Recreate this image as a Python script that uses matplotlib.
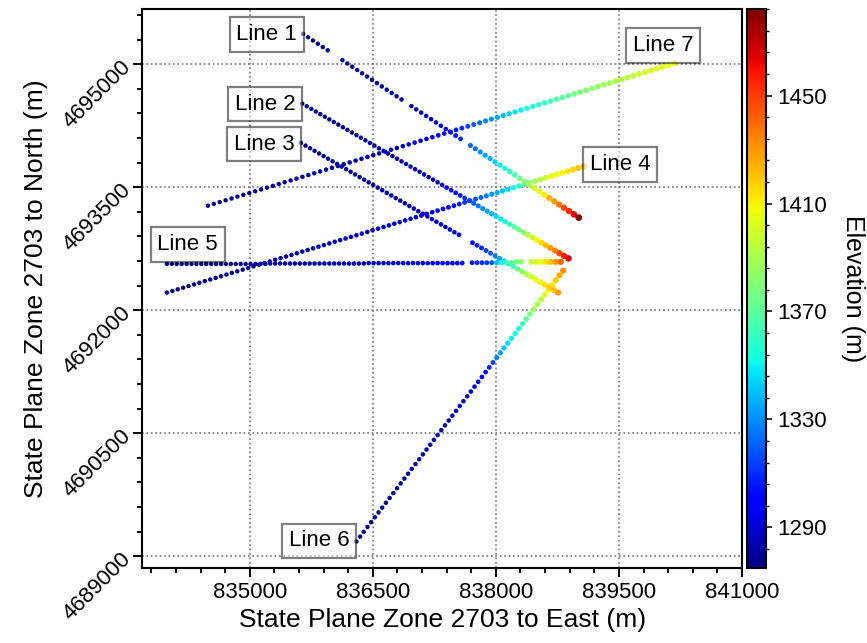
import matplotlib
matplotlib.use('Agg')
import matplotlib.pyplot as plt
from matplotlib.ticker import MultipleLocator, AutoMinorLocator
import numpy as np

plt.rcParams['font.family'] = ['Liberation Sans', 'DejaVu Sans']

# survey stations: easting (m), northing (m), elevation (m)
L1_E = [835650, 835710, 835770, 835830, 835890, 835950,
        836130, 836190, 836250, 836310, 836370, 836430, 836490, 836550, 836610, 836670, 836730, 836790, 836850,
        836970, 837030, 837090, 837150, 837210, 837270, 837330, 837390, 837450, 837510, 837570,
        837690, 837750, 837810, 837870, 837930, 837990, 838050, 838110, 838170, 838230, 838290, 838350,
        838410, 838470, 838530, 838590, 838650, 838710, 838770, 838830, 838890, 838950, 839010]
L1_N = [4695370, 4695330, 4695290, 4695250, 4695210, 4695170,
        4695050, 4695010, 4694970, 4694930, 4694890, 4694850, 4694810, 4694770, 4694730, 4694690, 4694650, 4694610, 4694570,
        4694490, 4694450, 4694410, 4694370, 4694330, 4694290, 4694250, 4694210, 4694170, 4694130, 4694090,
        4694010, 4693970, 4693930, 4693890, 4693850, 4693810, 4693770, 4693730, 4693690, 4693650, 4693610, 4693570,
        4693530, 4693490, 4693450, 4693410, 4693370, 4693330, 4693290, 4693250, 4693210, 4693170, 4693130]
L1_Z = [1278, 1277, 1278, 1279, 1278, 1279,
        1279, 1278, 1279, 1280, 1279, 1280, 1281, 1280, 1281, 1282, 1281, 1282, 1283,
        1283, 1284, 1284, 1285, 1286, 1288, 1291, 1295, 1300, 1305, 1309,
        1320, 1325, 1330, 1334, 1338, 1344, 1350, 1355, 1360, 1366, 1374, 1382,
        1390, 1398, 1405, 1412, 1424, 1430, 1437, 1448, 1455, 1463, 1482]

L2_E = [835640, 835695, 835750, 835805, 835860, 835915, 835970, 836025, 836080, 836135,
        836190, 836245, 836300, 836355, 836410, 836465, 836520, 836575, 836630, 836685,
        836740, 836795, 836850, 836905, 836960, 837015, 837070, 837125, 837180, 837235,
        837290, 837345, 837400, 837455, 837510, 837565, 837620, 837675, 837730, 837785,
        837840, 837895, 837950, 838005, 838060, 838115, 838170, 838225, 838280, 838335,
        838390, 838445, 838500, 838555, 838610, 838665, 838720, 838775, 838830, 838885]
L2_N = [4694520, 4694488, 4694456, 4694424, 4694392, 4694360, 4694328, 4694296, 4694264, 4694232,
        4694200, 4694168, 4694136, 4694104, 4694072, 4694040, 4694008, 4693976, 4693944, 4693912,
        4693880, 4693848, 4693816, 4693784, 4693752, 4693720, 4693688, 4693656, 4693624, 4693592,
        4693560, 4693528, 4693496, 4693464, 4693432, 4693400, 4693368, 4693336, 4693304, 4693272,
        4693240, 4693208, 4693176, 4693144, 4693112, 4693080, 4693048, 4693016, 4692984, 4692952,
        4692920, 4692888, 4692856, 4692824, 4692792, 4692760, 4692728, 4692696, 4692664, 4692632]
L2_Z = [1277, 1278, 1277, 1278, 1279, 1278, 1279, 1280, 1279, 1280,
        1280, 1279, 1280, 1281, 1280, 1281, 1282, 1281, 1282, 1283,
        1282, 1283, 1284, 1283, 1284, 1285, 1284, 1285, 1286, 1285,
        1287, 1291, 1295, 1299, 1303, 1306, 1310, 1314, 1320, 1325,
        1330, 1334, 1338, 1345, 1350, 1355, 1362, 1368, 1375, 1382,
        1392, 1400, 1408, 1415, 1422, 1428, 1435, 1447, 1455, 1465]

L3_E = [835625, 835680, 835735, 835790, 835845, 835900, 835955, 836010, 836065, 836120,
        836175, 836230, 836285, 836340, 836395, 836450, 836505, 836560, 836615, 836670,
        836725, 836780, 836835, 836890, 836945, 837000, 837055, 837110, 837165, 837220,
        837275, 837330, 837385, 837440, 837495, 837550,
        837715, 837770, 837825, 837880, 837935, 837990, 838045, 838100, 838155, 838210,
        838265, 838320, 838375, 838430, 838485, 838540, 838595, 838650, 838705, 838760]
L3_N = [4694040, 4694008, 4693976, 4693944, 4693912, 4693880, 4693848, 4693816, 4693784, 4693752,
        4693720, 4693688, 4693656, 4693624, 4693592, 4693560, 4693528, 4693496, 4693464, 4693432,
        4693400, 4693368, 4693336, 4693304, 4693272, 4693240, 4693208, 4693176, 4693144, 4693112,
        4693080, 4693048, 4693016, 4692984, 4692952, 4692920,
        4692824, 4692792, 4692760, 4692728, 4692696, 4692664, 4692632, 4692600, 4692568, 4692536,
        4692504, 4692472, 4692440, 4692408, 4692376, 4692344, 4692312, 4692280, 4692248, 4692216]
L3_Z = [1278, 1277, 1278, 1279, 1278, 1279, 1280, 1279, 1280, 1281,
        1280, 1281, 1282, 1281, 1282, 1283, 1282, 1283, 1284, 1283,
        1284, 1285, 1284, 1285, 1286, 1285, 1286, 1287, 1286, 1287,
        1288, 1289, 1288, 1290, 1291, 1292,
        1302, 1305, 1308, 1312, 1318, 1326, 1334, 1342, 1350, 1362,
        1374, 1384, 1392, 1398, 1404, 1410, 1414, 1418, 1422, 1428]

L4_E = [833990, 834056, 834122, 834188, 834254, 834320, 834386, 834452, 834518, 834584,
        834650, 834716, 834782, 834848, 834914, 834980, 835046, 835112, 835178, 835244,
        835310, 835376, 835442, 835508, 835574, 835640, 835706, 835772, 835838, 835904,
        835970, 836036, 836102, 836168, 836234, 836300, 836366, 836432, 836498, 836564,
        836630, 836696, 836762, 836828, 836894, 836960, 837026, 837092, 837158, 837224,
        837290, 837356, 837422, 837488, 837554, 837620, 837686, 837752, 837818, 837884,
        837950, 838016, 838082, 838148, 838214, 838280, 838346, 838412, 838478, 838544,
        838610, 838676, 838742, 838808, 838874, 838940, 839006, 839072]
L4_N = [4692215, 4692235, 4692255, 4692275, 4692295, 4692315, 4692335, 4692355, 4692375, 4692395,
        4692415, 4692435, 4692455, 4692475, 4692495, 4692515, 4692535, 4692555, 4692575, 4692595,
        4692615, 4692635, 4692655, 4692675, 4692695, 4692715, 4692735, 4692755, 4692775, 4692795,
        4692815, 4692835, 4692855, 4692875, 4692895, 4692915, 4692935, 4692955, 4692975, 4692995,
        4693015, 4693035, 4693055, 4693075, 4693095, 4693115, 4693135, 4693155, 4693175, 4693195,
        4693215, 4693235, 4693255, 4693275, 4693295, 4693315, 4693335, 4693355, 4693375, 4693395,
        4693415, 4693435, 4693455, 4693475, 4693495, 4693515, 4693535, 4693555, 4693575, 4693595,
        4693615, 4693635, 4693655, 4693675, 4693695, 4693715, 4693735, 4693755]
L4_Z = [1276, 1277, 1276, 1277, 1278, 1277, 1278, 1279, 1278, 1279,
        1279, 1280, 1279, 1280, 1281, 1280, 1281, 1281, 1282, 1281,
        1282, 1283, 1282, 1283, 1284, 1283, 1284, 1284, 1285, 1284,
        1285, 1286, 1285, 1286, 1287, 1286, 1287, 1287, 1288, 1287,
        1288, 1289, 1288, 1289, 1290, 1289, 1290, 1291, 1293, 1295,
        1297, 1299, 1301, 1303, 1306, 1310, 1314, 1318, 1322, 1326,
        1330, 1336, 1341, 1346, 1352, 1360, 1370, 1380, 1388, 1394,
        1398, 1404, 1407, 1410, 1413, 1416, 1419, 1423]

L5_E = [833990, 834050, 834110, 834170, 834230, 834290, 834350, 834410, 834470, 834530,
        834590, 834650, 834710, 834770, 834830, 834890, 834950, 835010, 835070, 835130,
        835190, 835250, 835310, 835370, 835430, 835490, 835550, 835610, 835670, 835730,
        835790, 835850, 835910, 835970, 836030, 836090, 836150, 836210, 836270, 836330,
        836390, 836450, 836510, 836570, 836630, 836690, 836750, 836810, 836870, 836930,
        836990, 837050, 837110, 837170, 837230, 837290, 837350, 837410, 837470, 837530, 837590,
        837710, 837770, 837830, 837890, 837950, 838010, 838070, 838130, 838190, 838250, 838310,
        838430, 838490, 838550, 838610, 838670, 838730, 838790]
L5_N = [4692565, 4692565, 4692565, 4692565, 4692565, 4692565, 4692565, 4692565, 4692565, 4692565,
        4692565, 4692565, 4692565, 4692565, 4692565, 4692565, 4692565, 4692565, 4692565, 4692565,
        4692565, 4692570, 4692570, 4692570, 4692570, 4692570, 4692570, 4692570, 4692570, 4692570,
        4692570, 4692570, 4692570, 4692570, 4692570, 4692570, 4692570, 4692570, 4692570, 4692570,
        4692570, 4692575, 4692575, 4692575, 4692575, 4692575, 4692575, 4692575, 4692575, 4692575,
        4692575, 4692575, 4692575, 4692575, 4692575, 4692575, 4692575, 4692575, 4692575, 4692575, 4692575,
        4692580, 4692580, 4692580, 4692580, 4692580, 4692580, 4692580, 4692580, 4692580, 4692590, 4692590,
        4692590, 4692590, 4692590, 4692590, 4692590, 4692590, 4692590]
L5_Z = [1276, 1275, 1276, 1277, 1276, 1277, 1278, 1277, 1278, 1277,
        1278, 1279, 1278, 1279, 1278, 1279, 1280, 1279, 1280, 1281,
        1280, 1281, 1280, 1281, 1282, 1281, 1282, 1283, 1282, 1283,
        1283, 1284, 1283, 1284, 1285, 1284, 1285, 1285, 1286, 1285,
        1286, 1286, 1287, 1286, 1287, 1287, 1288, 1288, 1289, 1289,
        1290, 1291, 1292, 1293, 1295, 1297, 1298, 1299, 1300, 1302, 1304,
        1306, 1308, 1310, 1313, 1318, 1340, 1352, 1362, 1370, 1376, 1384,
        1396, 1401, 1408, 1414, 1420, 1430, 1440]

L6_E = [836300, 836345, 836390, 836435, 836480, 836525, 836570, 836615, 836660, 836705,
        836750, 836795, 836840, 836885, 836930, 836975, 837020, 837065, 837110, 837155,
        837200, 837245, 837290, 837335, 837380, 837425, 837470, 837515, 837560, 837605,
        837650, 837695, 837740, 837785, 837830, 837875, 837920, 837965, 838010, 838055,
        838100, 838145, 838190, 838235, 838280, 838325, 838370, 838415, 838460, 838505,
        838550, 838595, 838640, 838685, 838730, 838775, 838820]
L6_N = [4689180, 4689239, 4689298, 4689357, 4689416, 4689475, 4689534, 4689593, 4689652, 4689711,
        4689770, 4689829, 4689888, 4689947, 4690006, 4690065, 4690124, 4690183, 4690242, 4690301,
        4690360, 4690419, 4690478, 4690537, 4690596, 4690655, 4690714, 4690773, 4690832, 4690891,
        4690950, 4691009, 4691068, 4691127, 4691186, 4691245, 4691304, 4691363, 4691422, 4691481,
        4691540, 4691599, 4691658, 4691717, 4691776, 4691835, 4691894, 4691953, 4692012, 4692071,
        4692130, 4692189, 4692248, 4692307, 4692366, 4692425, 4692484]
L6_Z = [1276, 1277, 1276, 1277, 1278, 1277, 1278, 1279, 1278, 1279,
        1280, 1279, 1280, 1281, 1280, 1281, 1282, 1281, 1282, 1283,
        1282, 1283, 1284, 1283, 1284, 1285, 1284, 1285, 1286, 1285,
        1286, 1288, 1290, 1293, 1298, 1302, 1308, 1314, 1328, 1334,
        1340, 1346, 1350, 1353, 1356, 1362, 1370, 1378, 1386, 1390,
        1394, 1400, 1406, 1412, 1418, 1425, 1432]

L7_E = [834490, 834562, 834634, 834706, 834778, 834850, 834922, 834994, 835066, 835138,
        835210, 835282, 835354, 835426, 835498, 835570, 835642, 835714, 835786, 835858,
        835930, 836002, 836074, 836146, 836218, 836290, 836362, 836434, 836506, 836578,
        836650, 836722, 836794, 836866, 836938, 837010, 837082, 837154, 837226, 837298,
        837370, 837442, 837514, 837586, 837658, 837730, 837802, 837874, 837946, 838018,
        838090, 838162, 838234, 838306, 838378, 838450, 838522, 838594, 838666, 838738,
        838810, 838882, 838954, 839026, 839098, 839170, 839242, 839314, 839386, 839458,
        839530, 839602, 839674, 839746, 839818, 839890, 839962, 840034, 840106, 840178]
L7_N = [4693275, 4693297, 4693319, 4693341, 4693363, 4693385, 4693407, 4693429, 4693451, 4693473,
        4693495, 4693517, 4693539, 4693561, 4693583, 4693605, 4693627, 4693649, 4693671, 4693693,
        4693715, 4693737, 4693759, 4693781, 4693803, 4693825, 4693847, 4693869, 4693891, 4693913,
        4693935, 4693957, 4693979, 4694001, 4694023, 4694045, 4694067, 4694089, 4694111, 4694133,
        4694155, 4694177, 4694199, 4694221, 4694243, 4694265, 4694287, 4694309, 4694331, 4694353,
        4694375, 4694397, 4694419, 4694441, 4694463, 4694485, 4694507, 4694529, 4694551, 4694573,
        4694595, 4694617, 4694639, 4694661, 4694683, 4694705, 4694727, 4694749, 4694771, 4694793,
        4694815, 4694837, 4694859, 4694881, 4694903, 4694925, 4694947, 4694969, 4694991, 4695013]
L7_Z = [1276, 1277, 1276, 1277, 1278, 1277, 1278, 1277, 1278, 1279,
        1278, 1279, 1280, 1279, 1280, 1281, 1280, 1281, 1282, 1281,
        1282, 1283, 1282, 1283, 1284, 1283, 1284, 1285, 1284, 1285,
        1286, 1285, 1286, 1287, 1288, 1289, 1290, 1292, 1294, 1297,
        1300, 1303, 1306, 1310, 1314, 1318, 1322, 1326, 1330, 1335,
        1339, 1343, 1347, 1350, 1352, 1354, 1356, 1359, 1362, 1366,
        1369, 1372, 1375, 1378, 1380, 1382, 1384, 1386, 1388, 1391,
        1393, 1395, 1397, 1399, 1400, 1402, 1403, 1405, 1406, 1408]

LABELS = ['Line 1', 'Line 2', 'Line 3', 'Line 4', 'Line 5', 'Line 6', 'Line 7']
LABEL_E = [835207, 835185, 835173, 839511, 834243, 835849, 840039]
LABEL_N = [4695363, 4694515, 4694024, 4693779, 4692802, 4689189, 4695229]

X_TICKS = [835000, 836500, 838000, 839500, 841000]
Y_TICKS = [4689000, 4690500, 4692000, 4693500, 4695000]
CB_TICKS = [1290, 1330, 1370, 1410, 1450]

E = np.concatenate([L1_E, L2_E, L3_E, L4_E, L5_E, L6_E, L7_E]).astype(float)
N = np.concatenate([L1_N, L2_N, L3_N, L4_N, L5_N, L6_N, L7_N]).astype(float)
Z = np.concatenate([L1_Z, L2_Z, L3_Z, L4_Z, L5_Z, L6_Z, L7_Z]).astype(float)
order = np.argsort(Z, kind='stable')

fig = plt.figure(figsize=(8.67, 6.43), dpi=100)
ax = fig.add_axes([0.1641, 0.1171, 0.6917, 0.8684])
cax = fig.add_axes([0.8619, 0.1171, 0.0216, 0.8684])

sizes = 10 + (Z[order] - 1275) * 0.065
sc = ax.scatter(E[order], N[order], c=Z[order], s=sizes, cmap='jet',
                linewidths=0, zorder=3)

for lab, x, y in zip(LABELS, LABEL_E, LABEL_N):
    ax.text(x, y, lab, ha='center', va='center', fontsize=16, zorder=5,
            bbox=dict(boxstyle='square,pad=0.3', facecolor='white',
                      edgecolor='black', linewidth=1.6, alpha=0.5))

ax.set_xlim(833690, 841000)
ax.set_ylim(4688860, 4695670)
ax.set_xticks(X_TICKS)
ax.set_yticks(Y_TICKS)
ax.set_xticklabels([str(v) for v in X_TICKS])
ax.set_yticklabels([str(v) for v in Y_TICKS])
ax.xaxis.set_minor_locator(MultipleLocator(300, offset=100))
ax.yaxis.set_minor_locator(MultipleLocator(300))
ax.grid(True, which='major', linestyle=':', color='0.45', linewidth=1.2)
ax.set_axisbelow(True)

for sp in ax.spines.values():
    sp.set_linewidth(1.5)
ax.tick_params(which='major', length=6.5, width=1.4, labelsize=16)
ax.tick_params(which='minor', length=3.8, width=1.4)
ax.tick_params(axis='y', pad=4)
plt.setp(ax.get_yticklabels(), rotation=45, ha='right', va='center',
         rotation_mode='anchor')

ax.set_xlabel('State Plane Zone 2703 to East (m)', fontsize=19, labelpad=4)
ax.set_ylabel('State Plane Zone 2703 to North (m)', fontsize=19, labelpad=8)

cb = fig.colorbar(sc, cax=cax)
cb.set_ticks(CB_TICKS)
cb.ax.yaxis.set_minor_locator(AutoMinorLocator(5))
cb.ax.tick_params(which='major', length=4.5, width=1.1, labelsize=16)
cb.ax.tick_params(which='minor', length=2.5, width=1.0)
cb.outline.set_linewidth(1.5)
cb.set_label('Elevation (m)', fontsize=18, rotation=270, va='bottom', labelpad=10)

fig.savefig('out.png', dpi=100)
